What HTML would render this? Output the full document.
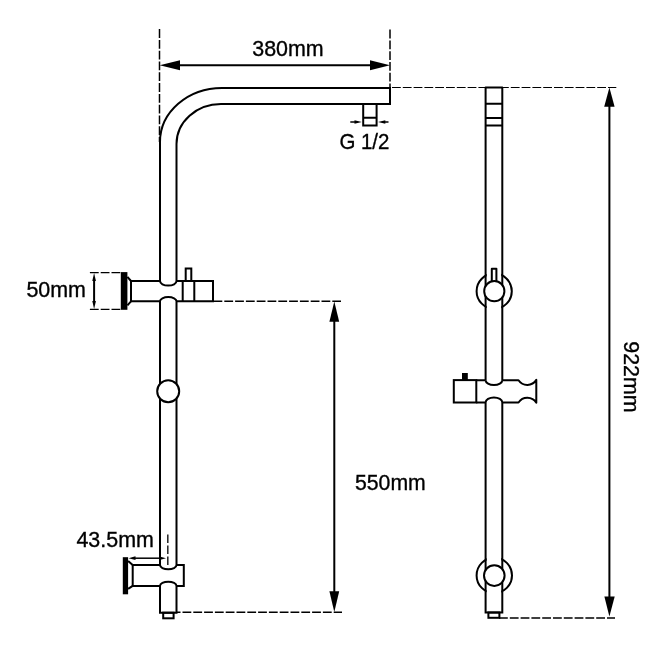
<!DOCTYPE html>
<html><head><meta charset="utf-8">
<style>
html,body{margin:0;padding:0;background:#fff;width:670px;height:670px;overflow:hidden}
svg{display:block;filter:grayscale(1)}
text{font-family:"Liberation Sans",sans-serif;fill:#000}
</style></head><body>
<svg width="670" height="670" viewBox="0 0 670 670">
<rect x="0" y="0" width="670" height="670" fill="#fff"/>
<g fill="none" stroke="#000" stroke-width="2">

<!-- ============ LEFT VIEW ============ -->
<!-- top segment: outer & inner curve + horizontal arm -->
<path d="M160,281 L160,142 A62,54 0 0 1 222,88 L390,88 L390,104 L221,104 A44.5,40 0 0 0 176.5,144 L176.5,281"/>
<path d="M160,281 A8.25,4.6 0 0 0 176.5,281"/>
<!-- nozzle -->
<path d="M363.2,104 L363.2,125.5 L376.6,125.5 L376.6,104 M363.2,117.8 L376.6,117.8"/>

<!-- upper slider arm -->
<path d="M131,281 L160,281 M176.5,281 L213,281 L213,301.3 L176.5,301.3 M160,301.3 L131,301.3 L131,281"/>
<path d="M182.7,281 L182.7,301.3 M194.3,281 L194.3,301.3"/>
<path d="M185.7,281 L185.7,268.5 L191.3,268.5 L191.3,281"/>
<path d="M127.4,276.8 L131,281 M127.4,305.3 L131,301.3"/>

<!-- middle segment -->
<path d="M160,301.3 A8.25,4.2 0 0 1 176.5,301.3 L176.5,565.1 A8.25,4.2 0 0 1 160,565.1 Z"/>
<circle cx="168.2" cy="391.3" r="11" fill="#fff"/>

<!-- lower slider arm -->
<path d="M132.7,565.1 L160,565.1 M176.5,565.1 L183.8,565.1 L183.8,585.9 L176.5,585.9 M160,585.9 L132.7,585.9 L132.7,565.1"/>
<path d="M128.1,561 L132.7,565.1 M128.1,588.9 L132.7,585.8"/>

<!-- bottom stub -->
<path d="M160,612.7 L160,585.9 A8.25,4.2 0 0 1 176.5,585.9 L176.5,612.7 Z"/>
<rect x="163.2" y="612.7" width="10.4" height="5.6"/>

<!-- ============ RIGHT VIEW ============ -->
<circle cx="494.2" cy="291.2" r="17.6"/>
<circle cx="494.3" cy="575.4" r="17.7"/>
</g>
<rect x="486.7" y="260" width="14.5" height="60" fill="#fff"/>
<rect x="486.7" y="545" width="14.5" height="60" fill="#fff"/>
<g fill="none" stroke="#000" stroke-width="2" stroke-linejoin="round">
<path d="M485.6,380.2 L485.6,87.5 L502.3,87.5 L502.3,380.2"/>
<path d="M485.6,103.8 L502.3,103.8 M485.6,118 L502.3,118 M485.6,125.6 L502.3,125.6"/>
<path d="M485.6,380.2 A8.35,4.7 0 0 0 502.3,380.2"/>
<path d="M491.8,281 L491.8,268.7 L496.4,268.7 L496.4,281"/>
<circle cx="494.3" cy="291.2" r="10.1" fill="#fff"/>
<path d="M476.3,380.2 L485.6,380.2 M502.3,380.2 L518.5,380.2 A10.6,10.6 0 0 0 536.3,379.9 L536.3,402.8 A10.6,10.6 0 0 0 518.5,402.5 L502.3,402.5 M485.6,402.5 L476.3,402.5"/>
<rect x="453.8" y="380.1" width="22.5" height="22.4" stroke-linejoin="miter"/>
<path d="M485.6,612.5 L485.6,402.5 A8.35,5.1 0 0 1 502.3,402.5 L502.3,612.5 Z" stroke-linejoin="miter"/>
<circle cx="494.3" cy="575.6" r="10.3" fill="#fff"/>
<rect x="488.4" y="612.5" width="11" height="5.3" stroke-linejoin="miter"/>
</g>
<rect x="462" y="373" width="5.8" height="7.5" fill="#000"/>

<!-- ============ DIMENSIONS ============ -->
<g fill="none" stroke="#000" stroke-width="1.5" stroke-dasharray="8.8 2">
<path d="M159.5,29.1 L159.5,142"/>
<path d="M390,29.6 L390,88"/>
<path d="M392,87.5 L616.3,87.5" stroke-width="1.2"/>
<path d="M89.9,272.6 L121,272.6 M89.9,309.4 L121,309.4" stroke-width="1.2"/>
<path d="M213.5,301.2 L341,301.2"/>
<path d="M177,612.2 L342,612.2" stroke-dashoffset="5.3"/>
<path d="M499,618 L615,618"/>
</g>
<path d="M167.8,534.6 L167.8,565" stroke="#222" stroke-width="1.5" stroke-dasharray="8.5 2.5" fill="none"/>

<g stroke="#000" stroke-width="2" fill="none">
<path d="M178,65.2 L372,65.2"/>
<path d="M334.3,320 L334.3,593"/>
<path d="M609.4,104 L609.4,598"/>
<path d="M94.1,279 L94.1,303"/>
</g>
<g fill="#000" stroke="none">
<path d="M159.7,65.2 L180,60.2 L180,70.3 Z"/>
<path d="M390,65.2 L370,60.2 L370,70.3 Z"/>
<path d="M334.3,301.5 L329.4,321.8 L339.2,321.8 Z"/>
<path d="M334.3,612 L329.4,591.2 L339.2,591.2 Z"/>
<path d="M609.4,87.4 L604.2,106.8 L614.6,106.8 Z"/>
<path d="M609.4,616.6 L604.4,596.4 L614.7,596.4 Z"/>
<path d="M94.1,273 L92.3,281 L95.9,281 Z"/>
<path d="M94.1,309 L92.3,301 L95.9,301 Z"/>
<!-- plates -->
<rect x="120.8" y="272.1" width="6.6" height="37.7"/>
<rect x="122.8" y="557.2" width="5.3" height="37.1"/>
<!-- G1/2 arrows -->
<path d="M361.8,122 L354.5,120.3 L354.5,123.7 Z"/>
<path d="M378,122 L385.3,120.3 L385.3,123.7 Z"/>
<!-- 43.5 arrows -->
<path d="M128.5,558.2 L135.5,556.3 L135.5,560.1 Z"/>
<path d="M166,558.2 L159.5,556.5 L159.5,559.9 Z"/>
</g>
<g stroke="#000" stroke-width="1.5" fill="none">
<path d="M350.3,122 L357,122 M388.5,122 L383,122"/>
<path d="M134,558.2 L161,558.2"/>
</g>

<!-- ============ TEXT ============ -->
<g font-size="22" stroke="#000" stroke-width="0.35">
<text transform="translate(252.2,56.1) scale(0.975,1)">380mm</text>
<text transform="translate(339.4,149.3) scale(0.93,1)">G 1/2</text>
<text transform="translate(26.4,296.5) scale(0.975,1)">50mm</text>
<text transform="translate(355,490.3) scale(0.965,1)">550mm</text>
<text transform="translate(76.4,546.9) scale(0.975,1)">43.5mm</text>
<text transform="translate(624.4,341.2) rotate(90) scale(0.975,1)">922mm</text>
</g>
</svg>
</body></html>
